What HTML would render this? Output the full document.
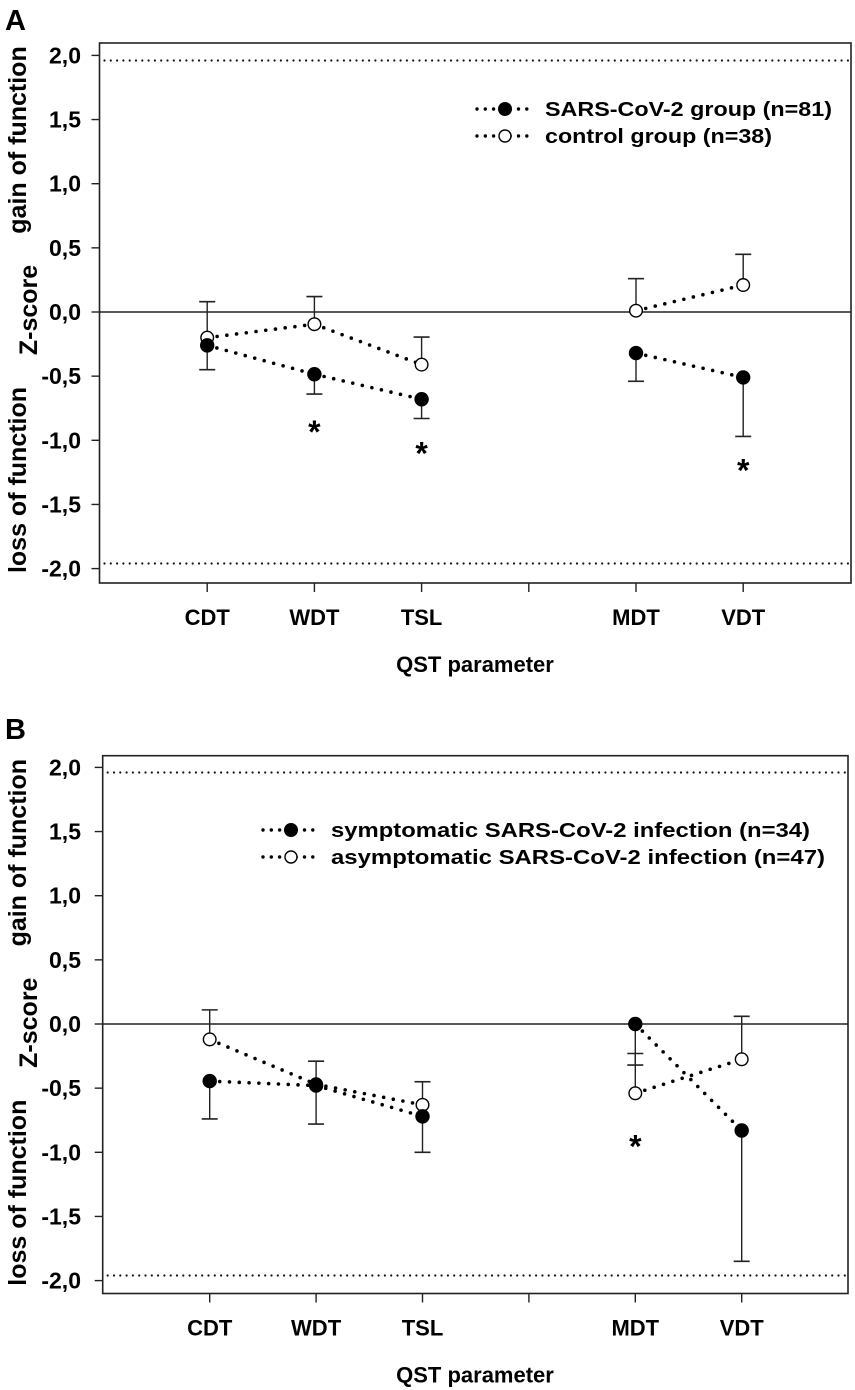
<!DOCTYPE html>
<html><head><meta charset="utf-8">
<style>
html,body{margin:0;padding:0;background:#fff;}
svg{display:block;font-family:"Liberation Sans",Arial,sans-serif;font-weight:bold;}
</style></head>
<body>
<svg id="fig" width="855" height="1390" viewBox="0 0 855 1390" xmlns="http://www.w3.org/2000/svg"></svg>
<script>
// ---- Shared data ----
const categories = ["CDT","WDT","TSL","","MDT","VDT"];
const yTicks = [2.0,1.5,1.0,0.5,0.0,-0.5,-1.0,-1.5,-2.0];
const yTickLabels = ["2,0","1,5","1,0","0,5","0,0","-0,5","-1,0","-1,5","-2,0"];
const refLines = [1.96,-1.96];

// Panel A
const aFilledValues = [-0.26,-0.485,-0.68,null,-0.32,-0.51];
const aFilledErr    = [-0.45,-0.64,-0.83,null,-0.54,-0.97];
const aOpenValues   = [-0.20,-0.095,-0.41,null,0.01,0.21];
const aOpenErr      = [0.08,0.12,-0.195,null,0.26,0.45];
const aStars        = [null,-0.88,-1.05,null,null,-1.18];
const aLegend = ["SARS-CoV-2 group (n=81)","control group (n=38)"];

// Panel B
const bFilledValues = [-0.445,-0.48,-0.72,null,0.0,-0.83];
const bFilledErr    = [-0.74,-0.78,-1.0,null,-0.32,-1.85];
const bOpenValues   = [-0.12,-0.47,-0.63,null,-0.54,-0.275];
const bOpenErr      = [0.11,-0.29,-0.45,null,-0.23,0.06];
const bStars        = [null,null,null,null,-0.90,null];
const bLegend = ["symptomatic SARS-CoV-2 infection (n=34)","asymptomatic SARS-CoV-2 infection (n=47)"];

const NS="http://www.w3.org/2000/svg";
const svg=document.getElementById('fig');
function mk(tag,attrs,parent){const e=document.createElementNS(NS,tag);for(const k in attrs)e.setAttribute(k,attrs[k]);(parent||svg).appendChild(e);return e;}

function panel(cfg){
  const g=mk('g',{});
  
  
  const y=v=>cfg.zero - v*128.3;
  const x=i=>cfg.x0 + cfg.dx*(i+1);
  const L=mk('text',{x:5,y:cfg.letterY,'font-size':29},g);L.textContent=cfg.letter;
  
  
  const fr=mk('rect',{x:cfg.left,y:cfg.top,width:cfg.right-cfg.left,height:cfg.bottom-cfg.top,fill:'none',stroke:'#222','stroke-width':1.6},g);
  
  
  yTicks.forEach((v,i)=>{
    mk('line',{x1:cfg.left-8,x2:cfg.left,y1:y(v),y2:y(v),stroke:'#222','stroke-width':1.4},g);
    const t=mk('text',{x:81,y:y(v)+8,'font-size':23,'text-anchor':'end'},g);t.textContent=yTickLabels[i];
    
    
  });
  const z=mk('line',{x1:cfg.left,x2:cfg.right,y1:y(0),y2:y(0),stroke:'#222','stroke-width':1.4},g);
  
  
  refLines.forEach(v=>{
    const r=mk('line',{x1:cfg.left+5,x2:cfg.right-2,y1:y(v),y2:y(v),stroke:'#111','stroke-width':2.2,'stroke-dasharray':'0 6.3','stroke-linecap':'round'},g);
    
    
  });
  categories.forEach((c,i)=>{
    mk('line',{x1:x(i),x2:x(i),y1:cfg.bottom,y2:cfg.bottom+9,stroke:'#222','stroke-width':1.4},g);
    if(c){const t=mk('text',{x:x(i),y:cfg.bottom+42,'font-size':22,'text-anchor':'middle'},g);t.textContent=c;
      
      }
  });
  const xt=mk('text',{x:475,y:cfg.bottom+89,'font-size':22,'text-anchor':'middle'},g);xt.textContent='QST parameter';
  
  
  const yt=[["gain of function",26,cfg.top+97],["Z-score",37,cfg.top+267],["loss of function",26,cfg.top+437]];
  yt.forEach(a=>{const t=mk('text',{x:0,y:0,'font-size':25,'text-anchor':'middle',transform:`translate(${a[1]},${a[2]}) rotate(-90)`},g);t.textContent=a[0];
    
    });
  function series(vals,errs,filled,name){
    const sg=mk('g',{},g);
    
    
    vals.forEach((v,i)=>{
      if(v===null)return;
      mk('line',{x1:x(i),x2:x(i),y1:y(v),y2:y(errs[i]),stroke:'#222','stroke-width':1.4},sg);
      mk('line',{x1:x(i)-8,x2:x(i)+8,y1:y(errs[i]),y2:y(errs[i]),stroke:'#222','stroke-width':1.6},sg);
    });
    for(let i=0;i<vals.length-1;i++){
      if(vals[i]===null||vals[i+1]===null)continue;
      const x1=x(i),y1=y(vals[i]),x2=x(i+1),y2=y(vals[i+1]);
      const d=Math.hypot(x2-x1,y2-y1),ux=(x2-x1)/d,uy=(y2-y1)/d;
      mk('line',{x1:x1+ux*10,y1:y1+uy*10,x2:x2-ux*6,y2:y2-uy*6,stroke:'#000','stroke-width':3.6,'stroke-linecap':'round','stroke-dasharray':'0 9.8'},sg);
    }
    vals.forEach((v,i)=>{
      if(v===null)return;
      const c=mk('circle',{cx:x(i),cy:y(v),r:filled?6.5:6.3,fill:filled?'#000':'#fff',stroke:'#000','stroke-width':1.4},sg);
      
      
    });
  }
  series(cfg.openV,cfg.openE,false,'open-series');
  series(cfg.filledV,cfg.filledE,true,'filled-series');
  cfg.stars.forEach((v,i)=>{ if(v===null)return;
    const t=mk('text',{x:x(i),y:y(v)+18,'font-size':32,'text-anchor':'middle'},g);t.textContent='*';
    
    });
  const lg=mk('g',{},g);
  
  
  cfg.legend.forEach((txt,k)=>{
    const ly=cfg.legY[k];
    mk('line',{x1:cfg.legX0,x2:cfg.legX0+50,y1:ly,y2:ly,stroke:'#000','stroke-width':3.4,'stroke-linecap':'round','stroke-dasharray':'0 8.3'},lg);
    mk('circle',{cx:cfg.legX0+28,cy:ly,r:k===0?6.3:6,fill:k===0?'#000':'#fff',stroke:'#000','stroke-width':1.4},lg);
    const t=mk('text',{x:cfg.legTX,y:ly+7,'font-size':20,textLength:cfg.legW[k],lengthAdjust:'spacingAndGlyphs'},lg);t.textContent=txt;
    
    
  });
}

panel({name:'panel-a',letter:'A',letterY:30,left:99.5,right:851,top:43,bottom:583,zero:312,x0:100,dx:107.2,
  filledV:aFilledValues,filledE:aFilledErr,openV:aOpenValues,openE:aOpenErr,stars:aStars,
  legend:aLegend,legX0:477,legTX:545,legY:[109,136],legW:[287,227]});
panel({name:'panel-b',letter:'B',letterY:739,left:102.7,right:848,top:755.7,bottom:1293.5,zero:1024,x0:103.3,dx:106.4,
  filledV:bFilledValues,filledE:bFilledErr,openV:bOpenValues,openE:bOpenErr,stars:bStars,
  legend:bLegend,legX0:263,legTX:331,legY:[830,857],legW:[479,494]});
</script>
</body></html>
